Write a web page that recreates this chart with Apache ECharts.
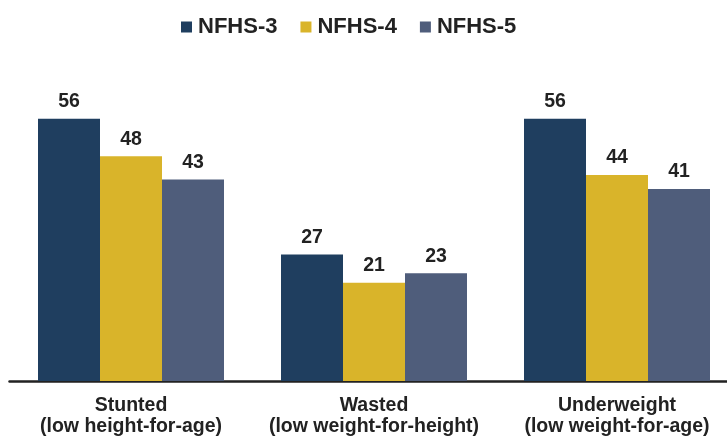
<!DOCTYPE html>
<html><head><meta charset="utf-8">
<script src="https://cdn.jsdelivr.net/npm/echarts@6/dist/echarts.min.js"></script>
<style>html,body{margin:0;padding:0;background:#fff;overflow:hidden;width:727px;height:438px}#c{width:740px;height:438px}</style>
</head><body><div id="c"></div>
<script>
var categories = ['Stunted\n(low height-for-age)', 'Wasted\n(low weight-for-height)', 'Underweight\n(low weight-for-age)'];
var seriesNames = ['NFHS-3', 'NFHS-4', 'NFHS-5'];
var nfhs3 = [56, 27, 56];
var nfhs4 = [48, 21, 44];
var nfhs5 = [43, 23, 41];
var colors = ['#1f3e5f', '#d9b42a', '#4f5d7b'];
var values = [nfhs3, nfhs4, nfhs5];

var chart = echarts.init(document.getElementById('c'));
var font = '"Liberation Sans", Arial, sans-serif';
chart.setOption({
  animation: false,
  legend: {
    left: 176, top: 11,
    itemWidth: 11, itemHeight: 11, itemGap: 23,
    icon: 'rect',
    textStyle: { fontSize: 22, fontWeight: 'bold', color: '#222', fontFamily: font, padding: [0, 0, 0, 1] },
    data: seriesNames
  },
  grid: { left: 9.5, width: 729, top: 100, bottom: 57 },
  xAxis: {
    type: 'category', data: categories,
    axisLine: { lineStyle: { color: '#222', width: 2.5 } },
    axisTick: { show: false },
    axisLabel: { interval: 0, margin: 14, fontSize: 19.5, fontWeight: 'bold', color: '#222', fontFamily: font, lineHeight: 21 }
  },
  yAxis: { type: 'value', min: 0, max: 60, show: false, splitLine: { show: false } },
  series: seriesNames.map(function (n, i) {
    return {
      name: n, type: 'bar', data: values[i], barWidth: 62, barGap: '0%',
      itemStyle: { color: colors[i] },
      label: { show: true, position: 'top', distance: 7, fontSize: 19.5, fontWeight: 'bold', color: '#222', fontFamily: font }
    };
  })
});
</script></body></html>
